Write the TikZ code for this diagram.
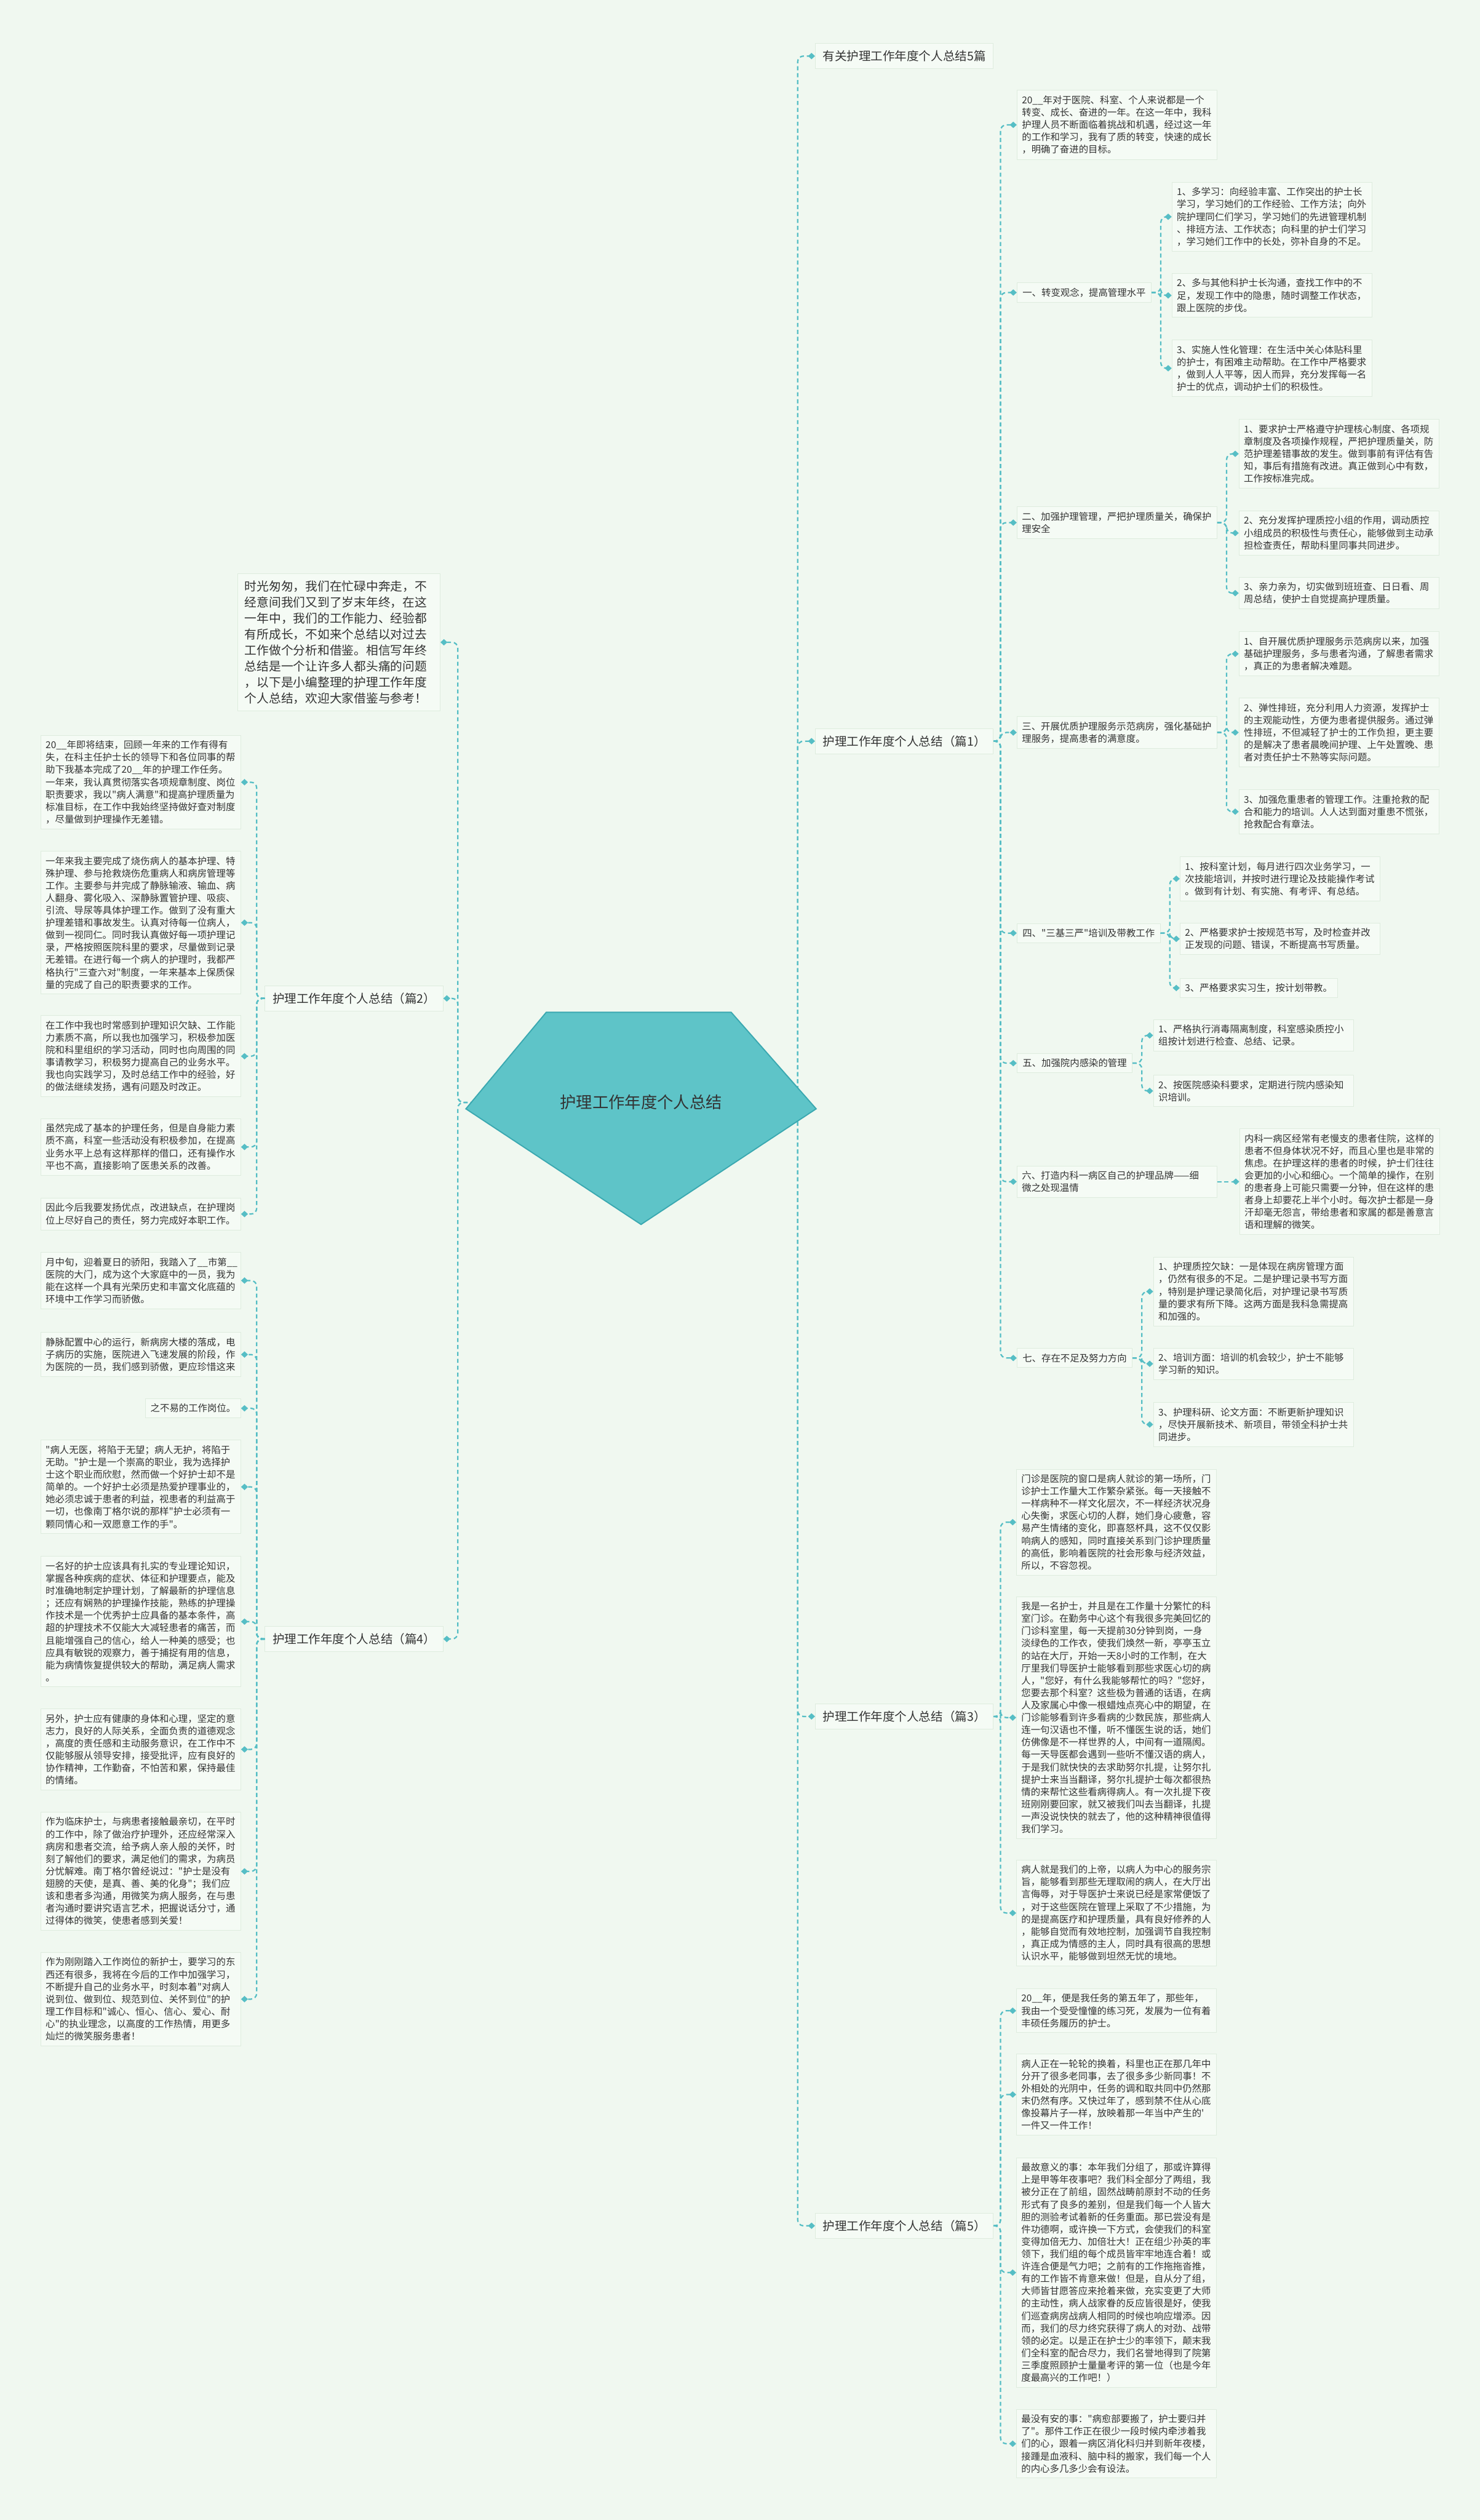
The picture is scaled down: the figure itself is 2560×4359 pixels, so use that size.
\documentclass[tikz,border=0pt]{standalone}
\usepackage{fontspec}
\newfontfamily\cjk{Noto Sans CJK SC}
\usetikzlibrary{positioning,arrows.meta}
\definecolor{bgmint}{RGB}{240,248,240}
\definecolor{boxfill}{RGB}{245,251,245}
\definecolor{boxline}{RGB}{222,236,222}
\definecolor{linkteal}{RGB}{86,190,197}
\definecolor{rootfill}{RGB}{94,196,200}
\definecolor{rootline}{RGB}{58,168,176}
\definecolor{txt}{RGB}{51,51,51}

\tikzset{
  box/.style={draw=boxline,fill=boxfill,line width=1pt,text=txt,align=left,
    inner xsep=8.5pt,inner ysep=9pt,font=\cjk\fontsize{16.4}{21.4}\selectfont},
  leaf/.style={box,text width=329pt},
  sub/.style={box,inner xsep=9.5pt},
  tag/.style={box,inner xsep=13pt,inner ysep=12pt,font=\cjk\fontsize{20.8}{26}\selectfont},
  link/.style={draw=linkteal,line width=2.4pt,dash pattern=on 7pt off 5pt,
    rounded corners=10pt,-{Diamond[length=12pt,width=11pt]}}
}

\begin{document}
\begin{tikzpicture}[x=1pt,y=-1pt]
\useasboundingbox (0,0) rectangle (2560,4359);
\fill[bgmint] (0,0) rectangle (2560,4359);
\coordinate (rootc) at (1109,1907);

% right side, first level
\node[tag,anchor=west] (ttl) at (1410,97) {有关护理工作年度个人总结5篇};
\node[tag,anchor=west] (b1) at (1410,1282) {护理工作年度个人总结（篇1）};
\node[tag,anchor=west] (b3) at (1410,2969) {护理工作年度个人总结（篇3）};
\node[tag,anchor=west] (b5) at (1410,3850) {护理工作年度个人总结（篇5）};

% left side, first level
\node[box,anchor=east,text width=326pt,inner xsep=12pt,inner ysep=12pt,
  font=\cjk\fontsize{21}{27.7}\selectfont] (intro) at (762,1111)
  {时光匆匆，我们在忙碌中奔走，不\\经意间我们又到了岁末年终，在这\\一年中，我们的工作能力、经验都\\有所成长，不如来个总结以对过去\\工作做个分析和借鉴。相信写年终\\总结是一个让许多人都头痛的问题\\，以下是小编整理的护理工作年度\\个人总结，欢迎大家借鉴与参考！};
\node[tag,anchor=east] (b2) at (767,1727) {护理工作年度个人总结（篇2）};
\node[tag,anchor=east] (b4) at (767,2835) {护理工作年度个人总结（篇4）};

% 篇1
\node[leaf,anchor=west] (p0) at (1759,216)
  {20\_\_年对于医院、科室、个人来说都是一个\\转变、成长、奋进的一年。在这一年中，我科\\护理人员不断面临着挑战和机遇，经过这一年\\的工作和学习，我有了质的转变，快速的成长\\，明确了奋进的目标。};
\node[sub,anchor=west] (n1) at (1759,506) {一、转变观念，提高管理水平};
\node[leaf,anchor=west] (n1a) at (2027,375)
  {1、多学习：向经验丰富、工作突出的护士长\\学习，学习她们的工作经验、工作方法；向外\\院护理同仁们学习，学习她们的先进管理机制\\、排班方法、工作状态；向科里的护士们学习\\，学习她们工作中的长处，弥补自身的不足。};
\node[leaf,anchor=west] (n1b) at (2027,511)
  {2、多与其他科护士长沟通，查找工作中的不\\足，发现工作中的隐患，随时调整工作状态，\\跟上医院的步伐。};
\node[leaf,anchor=west] (n1c) at (2027,637)
  {3、实施人性化管理：在生活中关心体贴科里\\的护士，有困难主动帮助。在工作中严格要求\\，做到人人平等，因人而异，充分发挥每一名\\护士的优点，调动护士们的积极性。};

\node[leaf,anchor=west] (n2) at (1759,904) {二、加强护理管理，严把护理质量关，确保护\\理安全};
\node[leaf,anchor=west] (n2a) at (2143,785)
  {1、要求护士严格遵守护理核心制度、各项规\\章制度及各项操作规程，严把护理质量关，防\\范护理差错事故的发生。做到事前有评估有告\\知，事后有措施有改进。真正做到心中有数，\\工作按标准完成。};
\node[leaf,anchor=west] (n2b) at (2143,922)
  {2、充分发挥护理质控小组的作用，调动质控\\小组成员的积极性与责任心，能够做到主动承\\担检查责任，帮助科里同事共同进步。};
\node[leaf,anchor=west] (n2c) at (2143,1026)
  {3、亲力亲为，切实做到班班查、日日看、周\\周总结，使护士自觉提高护理质量。};

\node[leaf,anchor=west] (n3) at (1759,1267) {三、开展优质护理服务示范病房，强化基础护\\理服务，提高患者的满意度。};
\node[leaf,anchor=west] (n3a) at (2143,1131)
  {1、自开展优质护理服务示范病房以来，加强\\基础护理服务，多与患者沟通，了解患者需求\\，真正的为患者解决难题。};
\node[leaf,anchor=west] (n3b) at (2143,1267)
  {2、弹性排班，充分利用人力资源，发挥护士\\的主观能动性，方便为患者提供服务。通过弹\\性排班，不但减轻了护士的工作负担，更主要\\的是解决了患者晨晚间护理、上午处置晚、患\\者对责任护士不熟等实际问题。};
\node[leaf,anchor=west] (n3c) at (2143,1404)
  {3、加强危重患者的管理工作。注重抢救的配\\合和能力的培训。人人达到面对重患不慌张，\\抢救配合有章法。};

\node[sub,anchor=west] (n4) at (1759,1614) {四、"三基三严"培训及带教工作};
\node[leaf,anchor=west] (n4a) at (2041,1520)
  {1、按科室计划，每月进行四次业务学习，一\\次技能培训，并按时进行理论及技能操作考试\\。做到有计划、有实施、有考评、有总结。};
\node[leaf,anchor=west] (n4b) at (2041,1624)
  {2、严格要求护士按规范书写，及时检查并改\\正发现的问题、错误，不断提高书写质量。};
\node[box,anchor=west] (n4c) at (2041,1709) {3、严格要求实习生，按计划带教。};

\node[sub,anchor=west] (n5) at (1759,1839) {五、加强院内感染的管理};
\node[leaf,anchor=west] (n5a) at (1995,1791)
  {1、严格执行消毒隔离制度，科室感染质控小\\组按计划进行检查、总结、记录。};
\node[leaf,anchor=west] (n5b) at (1995,1887)
  {2、按医院感染科要求，定期进行院内感染知\\识培训。};

\node[leaf,anchor=west] (n6) at (1759,2044) {六、打造内科一病区自己的护理品牌——细\\微之处现温情};
\node[leaf,right=38pt of n6] (n6a)
  {内科一病区经常有老慢支的患者住院，这样的\\患者不但身体状况不好，而且心里也是非常的\\焦虑。在护理这样的患者的时候，护士们往往\\会更加的小心和细心。一个简单的操作，在别\\的患者身上可能只需要一分钟，但在这样的患\\者身上却要花上半个小时。每次护士都是一身\\汗却毫无怨言，带给患者和家属的都是善意言\\语和理解的微笑。};

\node[sub,anchor=west] (n7) at (1759,2349) {七、存在不足及努力方向};
\node[leaf,anchor=west] (n7a) at (1995,2234)
  {1、护理质控欠缺：一是体现在病房管理方面\\，仍然有很多的不足。二是护理记录书写方面\\，特别是护理记录简化后，对护理记录书写质\\量的要求有所下降。这两方面是我科急需提高\\和加强的。};
\node[leaf,anchor=west] (n7b) at (1995,2359)
  {2、培训方面：培训的机会较少，护士不能够\\学习新的知识。};
\node[leaf,anchor=west] (n7c) at (1995,2464)
  {3、护理科研、论文方面：不断更新护理知识\\，尽快开展新技术、新项目，带领全科护士共\\同进步。};

% 篇3
\node[leaf,anchor=west] (q1) at (1758,2633)
  {门诊是医院的窗口是病人就诊的第一场所，门\\诊护士工作量大工作繁杂紧张。每一天接触不\\一样病种不一样文化层次，不一样经济状况身\\心失衡，求医心切的人群，她们身心疲惫，容\\易产生情绪的变化，即喜怒杯具，这不仅仅影\\响病人的感知，同时直接关系到门诊护理质量\\的高低，影响着医院的社会形象与经济效益，\\所以，不容忽视。};
\node[leaf,anchor=west] (q2) at (1758,2971)
  {我是一名护士，并且是在工作量十分繁忙的科\\室门诊。在勤务中心这个有我很多完美回忆的\\门诊科室里，每一天提前30分钟到岗，一身\\淡绿色的工作衣，使我们焕然一新，亭亭玉立\\的站在大厅，开始一天8小时的工作制，在大\\厅里我们导医护士能够看到那些求医心切的病\\人，"您好，有什么我能够帮忙的吗？"您好，\\您要去那个科室？这些极为普通的话语，在病\\人及家属心中像一根蜡烛点亮心中的期望，在\\门诊能够看到许多看病的少数民族，那些病人\\连一句汉语也不懂，听不懂医生说的话，她们\\仿佛像是不一样世界的人，中间有一道隔阂。\\每一天导医都会遇到一些听不懂汉语的病人，\\于是我们就快快的去求助努尔扎提，让努尔扎\\提护士来当当翻译，努尔扎提护士每次都很热\\情的来帮忙这些看病得病人。有一次扎提下夜\\班刚刚要回家，就又被我们叫去当翻译，扎提\\一声没说快快的就去了，他的这种精神很值得\\我们学习。};
\node[leaf,anchor=west] (q3) at (1758,3309)
  {病人就是我们的上帝，以病人为中心的服务宗\\旨，能够看到那些无理取闹的病人，在大厅出\\言侮辱，对于导医护士来说已经是家常便饭了\\，对于这些医院在管理上采取了不少措施，为\\的是提高医疗和护理质量，具有良好修养的人\\，能够自觉而有效地控制，加强调节自我控制\\，真正成为情感的主人，同时具有很高的思想\\认识水平，能够做到坦然无忧的境地。};

% 篇5
\node[leaf,anchor=west] (r1) at (1758,3478)
  {20\_\_年，便是我任务的第五年了，那些年，\\我由一个受受憧憧的练习死，发展为一位有着\\丰硕任务履历的护士。};
\node[leaf,anchor=west] (r2) at (1758,3623)
  {病人正在一轮轮的换着，科里也正在那几年中\\分开了很多老同事，去了很多多少新同事！不\\外相处的光阴中，任务的调和取共同中仍然那\\末仍然有序。又快过年了，感到禁不住从心底\\像投幕片子一样，放映着那一年当中产生的'\\一件又一件工作！};
\node[leaf,anchor=west] (r3) at (1758,3931)
  {最故意义的事：本年我们分组了，那或许算得\\上是甲等年夜事吧？我们科全部分了两组，我\\被分正在了前组，固然战畴前原封不动的任务\\形式有了良多的差别，但是我们每一个人皆大\\胆的测验考试着新的任务重面。那已尝没有是\\件功德啊，或许换一下方式，会使我们的科室\\变得加倍无力、加倍壮大！正在组少孙英的率\\领下，我们组的每个成员皆牢牢地连合着！或\\许连合便是气力吧；之前有的工作拖拖沓推，\\有的工作皆不肯意来做！但是，自从分了组，\\大师皆甘愿答应来抢着来做，充实变更了大师\\的主动性，病人战家眷的反应皆很是好，使我\\们巡查病房战病人相同的时候也响应增添。因\\而，我们的尽力终究获得了病人的对劲、战带\\领的必定。以是正在护士少的率领下，颠末我\\们全科室的配合尽力，我们名誉地得到了院第\\三季度照顾护士量量考评的第一位（也是今年\\度最高兴的工作吧！）};
\node[leaf,anchor=west] (r4) at (1758,4227)
  {最没有安的事："病愈部要搬了，护士要归并\\了"。那件工作正在很少一段时候内牵涉着我\\们的心，跟着一病区消化科归并到新年夜楼，\\接踵是血液科、脑中科的搬家，我们每一个人\\的内心多几多少会有设法。};

% 篇2
\node[leaf,anchor=east] (s1) at (417,1353)
  {20\_\_年即将结束，回顾一年来的工作有得有\\失，在科主任护士长的领导下和各位同事的帮\\助下我基本完成了20\_\_年的护理工作任务。\\一年来，我认真贯彻落实各项规章制度、岗位\\职责要求，我以"病人满意"和提高护理质量为\\标准目标，在工作中我始终坚持做好查对制度\\，尽量做到护理操作无差错。};
\node[leaf,anchor=east] (s2) at (417,1596)
  {一年来我主要完成了烧伤病人的基本护理、特\\殊护理、参与抢救烧伤危重病人和病房管理等\\工作。主要参与并完成了静脉输液、输血、病\\人翻身、雾化吸入、深静脉置管护理、吸痰、\\引流、导尿等具体护理工作。做到了没有重大\\护理差错和事故发生。认真对待每一位病人，\\做到一视同仁。同时我认真做好每一项护理记\\录，严格按照医院科里的要求，尽量做到记录\\无差错。在进行每一个病人的护理时，我都严\\格执行"三查六对"制度，一年来基本上保质保\\量的完成了自己的职责要求的工作。};
\node[leaf,anchor=east] (s3) at (417,1827)
  {在工作中我也时常感到护理知识欠缺、工作能\\力素质不高，所以我也加强学习，积极参加医\\院和科里组织的学习活动，同时也向周围的同\\事请教学习，积极努力提高自己的业务水平。\\我也向实践学习，及时总结工作中的经验，好\\的做法继续发扬，遇有问题及时改正。};
\node[leaf,anchor=east] (s4) at (417,1984)
  {虽然完成了基本的护理任务，但是自身能力素\\质不高，科室一些活动没有积极参加，在提高\\业务水平上总有这样那样的借口，还有操作水\\平也不高，直接影响了医患关系的改善。};
\node[leaf,anchor=east] (s5) at (417,2100)
  {因此今后我要发扬优点，改进缺点，在护理岗\\位上尽好自己的责任，努力完成好本职工作。};

% 篇4
\node[leaf,anchor=east] (t1) at (417,2215)
  {月中旬，迎着夏日的骄阳，我踏入了\_\_市第\_\_\\医院的大门，成为这个大家庭中的一员，我为\\能在这样一个具有光荣历史和丰富文化底蕴的\\环境中工作学习而骄傲。};
\node[leaf,anchor=east] (t2) at (417,2343)
  {静脉配置中心的运行，新病房大楼的落成，电\\子病历的实施，医院进入飞速发展的阶段，作\\为医院的一员，我们感到骄傲，更应珍惜这来};
\node[box,anchor=east] (t3) at (417,2436) {之不易的工作岗位。};
\node[leaf,anchor=east] (t4) at (417,2572)
  {"病人无医，将陷于无望；病人无护，将陷于\\无助。"护士是一个崇高的职业，我为选择护\\士这个职业而欣慰，然而做一个好护士却不是\\简单的。一个好护士必须是热爱护理事业的，\\她必须忠诚于患者的利益，视患者的利益高于\\一切，也像南丁格尔说的那样"护士必须有一\\颗同情心和一双愿意工作的手"。};
\node[leaf,anchor=east] (t5) at (417,2805)
  {一名好的护士应该具有扎实的专业理论知识，\\掌握各种疾病的症状、体征和护理要点，能及\\时准确地制定护理计划，了解最新的护理信息\\；还应有娴熟的护理操作技能，熟练的护理操\\作技术是一个优秀护士应具备的基本条件，高\\超的护理技术不仅能大大减轻患者的痛苦，而\\且能增强自己的信心，给人一种美的感受；也\\应具有敏锐的观察力，善于捕捉有用的信息，\\能为病情恢复提供较大的帮助，满足病人需求\\。};
\node[leaf,anchor=east] (t6) at (417,3026)
  {另外，护士应有健康的身体和心理，坚定的意\\志力，良好的人际关系，全面负责的道德观念\\，高度的责任感和主动服务意识，在工作中不\\仅能够服从领导安排，接受批评，应有良好的\\协作精神，工作勤奋，不怕苦和累，保持最佳\\的情绪。};
\node[leaf,anchor=east] (t7) at (417,3237)
  {作为临床护士，与病患者接触最亲切，在平时\\的工作中，除了做治疗护理外，还应经常深入\\病房和患者交流，给予病人亲人般的关怀，时\\刻了解他们的要求，满足他们的需求，为病员\\分忧解难。南丁格尔曾经说过："护士是没有\\翅膀的天使，是真、善、美的化身"；我们应\\该和患者多沟通，用微笑为病人服务，在与患\\者沟通时要讲究语言艺术，把握说话分寸，通\\过得体的微笑，使患者感到关爱！};
\node[leaf,anchor=east] (t8) at (417,3458)
  {作为刚刚踏入工作岗位的新护士，要学习的东\\西还有很多，我将在今后的工作中加强学习，\\不断提升自己的业务水平，时刻本着"对病人\\说到位、做到位、规范到位、关怀到位"的护\\理工作目标和"诚心、恒心、信心、爱心、耐\\心"的执业理念，以高度的工作热情，用更多\\灿烂的微笑服务患者！};

% connectors
\foreach \c in {ttl,b1,b3,b5} \draw[link] (rootc) -- ++(271,0) |- (\c.west);
\foreach \c in {intro,b2,b4} \draw[link] (rootc) -- ++(-317,0) |- (\c.east);
\foreach \c in {p0,n1,n2,n3,n4,n5,n6,n7} \draw[link] (b1.east) -- ++(12,0) |- (\c.west);
\foreach \c in {n1a,n1b,n1c} \draw[link] (n1.east) -- ++(16,0) |- (\c.west);
\foreach \c in {n2a,n2b,n2c} \draw[link] (n2.east) -- ++(16,0) |- (\c.west);
\foreach \c in {n3a,n3b,n3c} \draw[link] (n3.east) -- ++(16,0) |- (\c.west);
\foreach \c in {n4a,n4b,n4c} \draw[link] (n4.east) -- ++(16,0) |- (\c.west);
\foreach \c in {n5a,n5b} \draw[link] (n5.east) -- ++(16,0) |- (\c.west);
\draw[link] (n6) -- (n6a);
\foreach \c in {n7a,n7b,n7c} \draw[link] (n7.east) -- ++(16,0) |- (\c.west);
\foreach \c in {q1,q2,q3} \draw[link] (b3.east) -- ++(12,0) |- (\c.west);
\foreach \c in {r1,r2,r3,r4} \draw[link] (b5.east) -- ++(12,0) |- (\c.west);
\foreach \c in {s1,s2,s3,s4,s5} \draw[link] (b2.west) -- ++(-14,0) |- (\c.east);
\foreach \c in {t1,t2,t3,t4,t5,t6,t7,t8} \draw[link] (b4.west) -- ++(-14,0) |- (\c.east);

% root
\draw[fill=rootfill,draw=rootline,line width=2pt] (945,1751) -- (1265,1751) -- (1412,1918) -- (1109,2118) -- (806,1918) -- cycle;
\node[text=txt,font=\cjk\fontsize{28}{34}\selectfont] (root) at (rootc) {护理工作年度个人总结};
\end{tikzpicture}
\end{document}
